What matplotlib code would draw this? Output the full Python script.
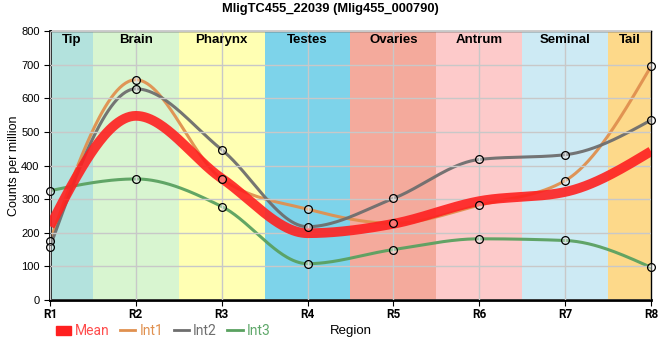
import numpy as np
import matplotlib
matplotlib.use("Agg")
from matplotlib import pyplot as plt
from matplotlib.lines import Line2D
from matplotlib.patches import Patch

plt.rcParams['font.family'] = ['Liberation Sans', 'DejaVu Sans']

regions = ["R1", "R2", "R3", "R4", "R5", "R6", "R7", "R8"]
tissues = ["Tip", "Brain", "Pharynx", "Testes", "Ovaries", "Antrum", "Seminal", "Tail"]
tissue_colors = ["#b3e2dd", "#d8f5d0", "#ffffb3", "#7dd3ea",
                 "#f4aa9c", "#fdcaca", "#cdeaf4", "#fdd98a"]

int1 = [175, 655, 360, 270, 228, 282, 355, 695]
int2 = [158, 628, 447, 218, 302, 418, 432, 535]
int3 = [325, 360, 278, 108, 150, 182, 177, 97]
mean = list(np.mean([int1, int2, int3], axis=0))

series_colors = {"Mean": "#ff2020", "Int1": "#e0904f", "Int2": "#6e6e6e", "Int3": "#5aa160"}
label_colors = {"Mean": "#ff4d4d", "Int1": "#e0904f", "Int2": "#6e6e6e", "Int3": "#5fa86a"}


def monotone(y, n=60):
    # same idea as d3 curveMonotoneX
    y = np.asarray(y, dtype=float)
    m = len(y)
    s = np.diff(y)
    t = np.zeros(m)
    for i in range(1, m - 1):
        s0, s1 = s[i - 1], s[i]
        p = (s0 + s1) / 2
        t[i] = (np.sign(s0) + np.sign(s1)) * min(abs(s0), abs(s1), 0.5 * abs(p))
    t[0] = (3 * s[0] - t[1]) / 2
    t[-1] = (3 * s[-1] - t[-2]) / 2
    xs, ys = [], []
    u = np.linspace(0, 1, n)
    h00 = 2 * u**3 - 3 * u**2 + 1
    h10 = u**3 - 2 * u**2 + u
    h01 = -2 * u**3 + 3 * u**2
    h11 = u**3 - u**2
    for i in range(m - 1):
        xs.extend(i + u)
        ys.extend(h00 * y[i] + h10 * t[i] + h01 * y[i + 1] + h11 * t[i + 1])
    return np.array(xs), np.array(ys)


fig = plt.figure(figsize=(6.6, 3.6), dpi=100)
ax = fig.add_axes([50 / 660, 1 - 300 / 360, 601 / 660, 269 / 360])

x = np.arange(len(regions))
for i, (name, col) in enumerate(zip(tissues, tissue_colors)):
    lo, hi = max(i - 0.5, 0), min(i + 0.5, len(regions) - 1)
    ax.axvspan(lo, hi, color=col, lw=0, zorder=0)
    ax.text((lo + hi) / 2, 773, name, ha="center", va="center",
            fontsize=9.5, fontweight="bold", zorder=5)

ax.grid(True, color="#c8c8c8", lw=1, zorder=1)
ax.set_axisbelow(False)

xs, ys = monotone(mean)
ax.plot(xs, ys, color=series_colors["Mean"], lw=7, alpha=0.9, solid_capstyle="butt", zorder=3)
for name, vals in [("Int1", int1), ("Int2", int2), ("Int3", int3)]:
    xs, ys = monotone(vals)
    ax.plot(xs, ys, color=series_colors[name], lw=2.2, alpha=0.95, zorder=2)
    ax.plot(x, vals, ls="none", marker="o", ms=5.6, mfc=(1, 1, 1, 0.35),
            mec="black", mew=0.9, zorder=4, clip_on=False)

ax.set_xlim(0, 7)
ax.set_ylim(0, 800)
ax.set_xticks(x)
ax.set_xticklabels(regions, fontsize=8.5, fontweight="bold", family="Roboto")
ax.set_yticks(range(0, 801, 100))
ax.tick_params(axis="y", labelsize=8, length=4)
ax.tick_params(axis="x", length=4, pad=2)
ax.set_ylabel("Counts per million", fontsize=9, labelpad=1)

for side in ["left", "bottom"]:
    ax.spines[side].set_linewidth(2)
for side in ["top", "right"]:
    ax.spines[side].set_linewidth(1)

fig.text(0.5, 1 - 9 / 360, "MligTC455_22039 (Mlig455_000790)", ha="center", va="center",
         fontsize=9.3, fontweight="bold")
fig.text(351 / 660, 1 - 331 / 360, "Region", ha="center", va="center", fontsize=9.5)

handles = [Patch(color=series_colors["Mean"]),
           Line2D([], [], color=series_colors["Int1"], lw=2),
           Line2D([], [], color=series_colors["Int2"], lw=2),
           Line2D([], [], color=series_colors["Int3"], lw=2)]
labels = ["Mean", "Int1", "Int2", "Int3"]
fig.legend(handles, labels, ncol=4, loc="center left", frameon=False,
           bbox_to_anchor=(43 / 660, 1 - 331 / 360),
           labelcolor=[label_colors[l] for l in labels], handlelength=1.1,
           handleheight=0.6, handletextpad=0.3, columnspacing=0.75,
           prop={"family": "Roboto", "size": 10})

fig.savefig("out.png", dpi=100)
